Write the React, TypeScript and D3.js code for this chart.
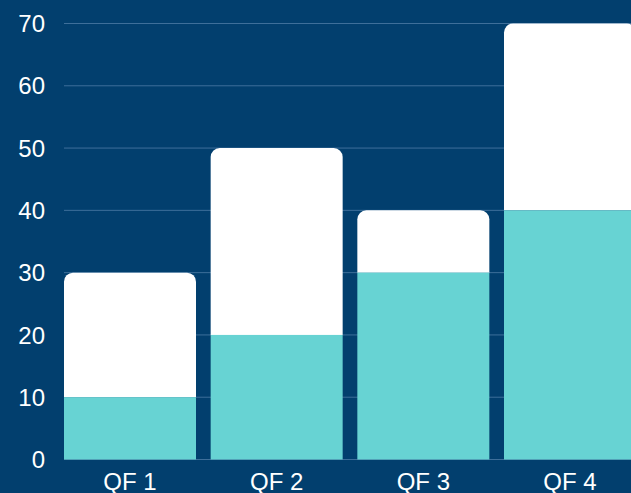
import React from "react";
import * as d3 from "d3";

const categories = ["QF 1", "QF 2", "QF 3", "QF 4"];
const baseValues = [10, 20, 30, 40];
const topValues = [20, 30, 10, 30];
const yTicks = [0, 10, 20, 30, 40, 50, 60, 70];

const W = 631;
const H = 493;
const BG = "#023f6e";
const TEAL = "#67d3d3";
const GRID = "#3e6f9a";

export default function App() {
  const x = d3.scaleBand<string>().domain(categories).range([64, 636]).paddingInner(0.1).paddingOuter(0);
  const y = d3.scaleLinear().domain([0, 70]).range([459.5, 23.5]);
  const r = 9;
  const font = "'Liberation Sans', Arial, sans-serif";

  return (
    <svg width={W} height={H} style={{ position: "fixed", left: 0, top: 0, display: "block" }}>
      <rect x={0} y={0} width={W} height={H} fill={BG} />
      {yTicks.map((t) => (
        <g key={t}>
          <line x1={64} x2={W} y1={y(t)} y2={y(t)} stroke={GRID} strokeWidth={1} />
          <text x={45} y={y(t)} dy="0.36em" textAnchor="end" fill="#fff" fontSize={24} fontFamily={font}>
            {t}
          </text>
        </g>
      ))}
      {categories.map((c, i) => {
        const x0 = x(c)!;
        const bw = x.bandwidth();
        const yb0 = y(0);
        const yb1 = y(baseValues[i]);
        const yt = y(baseValues[i] + topValues[i]);
        const path = d3.path();
        path.moveTo(x0, yb1);
        path.lineTo(x0, yt + r);
        path.arcTo(x0, yt, x0 + r, yt, r);
        path.lineTo(x0 + bw - r, yt);
        path.arcTo(x0 + bw, yt, x0 + bw, yt + r, r);
        path.lineTo(x0 + bw, yb1);
        path.closePath();
        return (
          <g key={c}>
            <path d={path.toString()} fill="#ffffff" />
            <rect x={x0} y={yb1} width={bw} height={yb0 - yb1} fill={TEAL} />
            <text x={x0 + bw / 2} y={490} textAnchor="middle" fill="#fff" fontSize={24} fontFamily={font}>
              {c}
            </text>
          </g>
        );
      })}
    </svg>
  );
}
